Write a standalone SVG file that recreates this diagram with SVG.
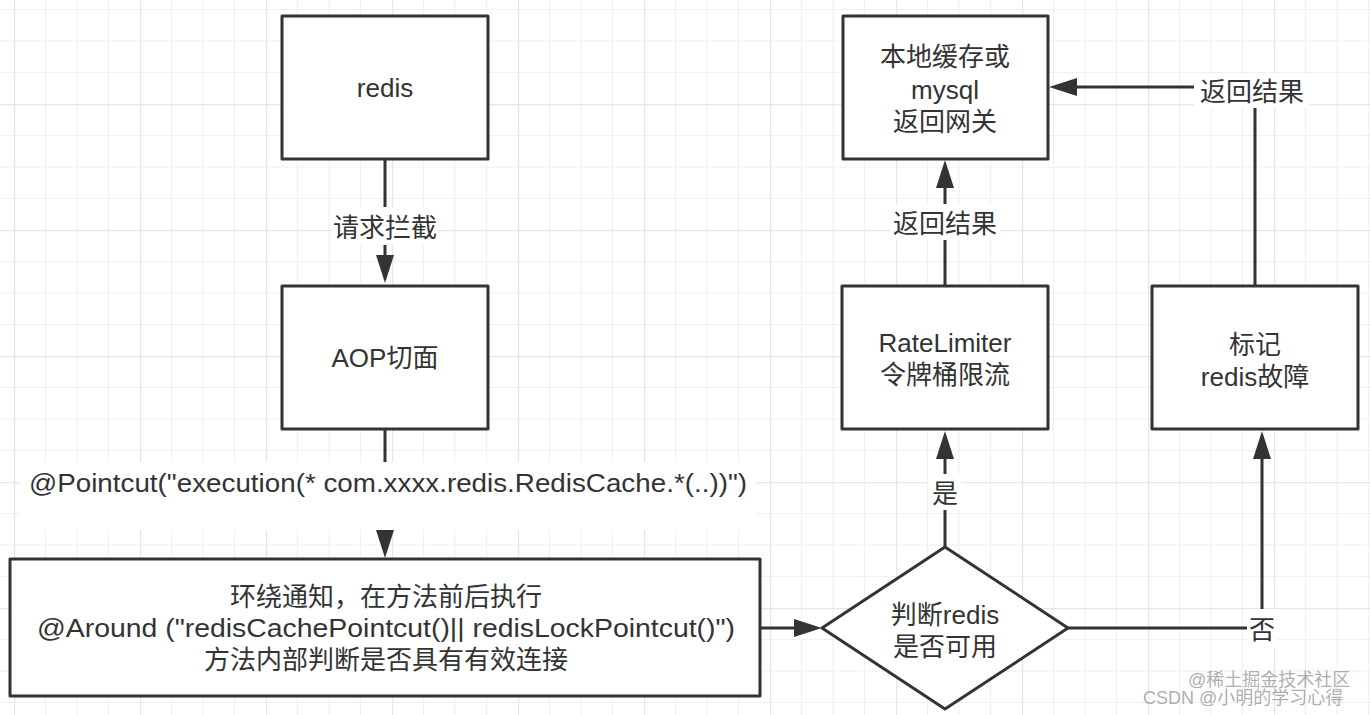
<svg xmlns="http://www.w3.org/2000/svg" width="1370" height="715" viewBox="0 0 1370 715">
<defs>
<pattern id="grid" width="126" height="126" patternUnits="userSpaceOnUse" x="14" y="-22">
<path d="M31.5,0V126M63,0V126M94.5,0V126M0,31.5H126M0,63H126M0,94.5H126" stroke="#f0f0f0" stroke-width="1.2" fill="none"/>
<path d="M0.5,0V126M0,0.5H126" stroke="#e6e6e6" stroke-width="1.5" fill="none"/>
</pattern>
<marker id="arr" viewBox="0 0 28 18" refX="22" refY="9" markerWidth="28" markerHeight="18" orient="auto" markerUnits="userSpaceOnUse">
<path d="M0,0 L28,9 L0,18 z" fill="#333"/>
</marker>
</defs>
<style>
.box{fill:#fff;stroke:#333;stroke-width:3;stroke-linejoin:round}
.edge{fill:none;stroke:#333;stroke-width:3;marker-end:url(#arr)}
.t{font-family:"Liberation Sans","Noto Sans CJK SC",sans-serif;font-size:26px;fill:#333;text-anchor:middle}
.bg{fill:#fff}
.wm{font-family:"Liberation Sans","Noto Sans CJK SC",sans-serif;font-size:18px;fill:#999;fill-opacity:0.8}
</style>
<rect width="1370" height="715" fill="#fff"/>
<rect width="1370" height="715" fill="url(#grid)"/>

<g id="connectors">
<path class="edge" d="M385,159V277"/>
<path class="edge" d="M385,429V552"/>
<path class="edge" d="M760,628H816"/>
<path class="edge" d="M945,547V437"/>
<path class="edge" d="M945,286V166"/>
<path class="edge" d="M1255,286V87H1055"/>
<path class="edge" d="M1068,628H1262V437"/>
<rect class="bg" x="332" y="207" width="106" height="38"/>
<text class="t" x="385" y="237">请求拦截</text>
<rect class="bg" x="20" y="462" width="736" height="68"/>
<text class="t" x="388" y="492" textLength="718" lengthAdjust="spacingAndGlyphs">@Pointcut("execution(* com.xxxx.redis.RedisCache.*(..))")</text>
<rect class="bg" x="890" y="204" width="110" height="36"/>
<text class="t" x="945" y="233">返回结果</text>
<rect class="bg" x="929" y="474" width="32" height="36"/>
<text class="t" x="945" y="503">是</text>
<rect class="bg" x="1194" y="74" width="116" height="34"/>
<text class="t" x="1252" y="101">返回结果</text>
<rect class="bg" x="1247" y="609" width="30" height="38"/>
<text class="t" x="1262" y="639">否</text>
</g>

<g id="redis">
<rect class="box" x="282" y="16" width="206" height="143"/>
<text class="t" x="385" y="97">redis</text>
</g>
<g id="aop">
<rect class="box" x="282" y="286" width="206" height="143"/>
<text class="t" x="385" y="367">AOP切面</text>
</g>
<g id="around">
<rect class="box" x="10" y="559" width="750" height="137"/>
<text class="t" x="386" y="606">环绕通知，在方法前后执行</text>
<text class="t" x="386" y="637" textLength="698" lengthAdjust="spacingAndGlyphs">@Around ("redisCachePointcut()|| redisLockPointcut()")</text>
<text class="t" x="386" y="669">方法内部判断是否具有有效连接</text>
</g>
<g id="decision">
<path class="box" d="M822,628 L945,547 L1068,628 L945,709 Z"/>
<text class="t" x="945" y="624">判断redis</text>
<text class="t" x="945" y="656">是否可用</text>
</g>
<g id="ratelimiter">
<rect class="box" x="842" y="286" width="206" height="143"/>
<text class="t" x="945" y="352">RateLimiter</text>
<text class="t" x="945" y="384">令牌桶限流</text>
</g>
<g id="local">
<rect class="box" x="843" y="16" width="205" height="143"/>
<text class="t" x="945" y="66">本地缓存或</text>
<text class="t" x="945" y="99">mysql</text>
<text class="t" x="945" y="131">返回网关</text>
</g>
<g id="mark">
<rect class="box" x="1152" y="286" width="206" height="143"/>
<text class="t" x="1255" y="354">标记</text>
<text class="t" x="1255" y="386">redis故障</text>
</g>
<g id="watermark">
<text class="wm" x="1188" y="686">@稀土掘金技术社区</text>
<text class="wm" x="1143" y="704">CSDN @小明的学习心得</text>
</g>
</svg>
